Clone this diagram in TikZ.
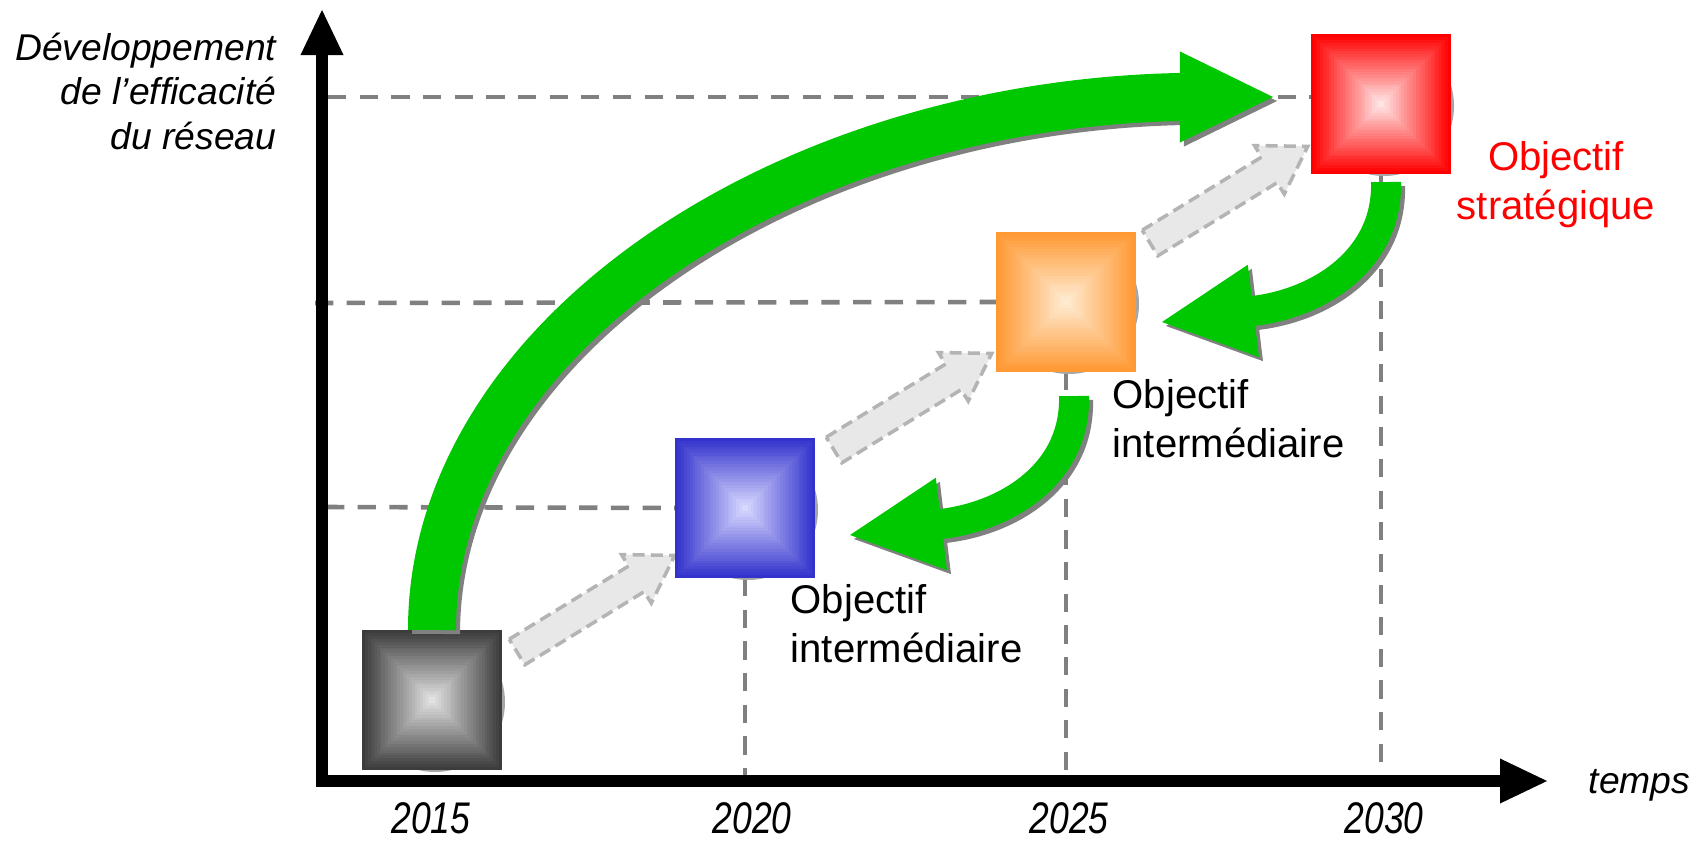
\documentclass[tikz,border=0pt]{standalone}
\usepackage{fontspec}
\setmainfont{Liberation Sans}
\newfontfamily\yearfont[FakeStretch=0.8]{Liberation Sans}
\usetikzlibrary{arrows.meta}

\definecolor{arrowgreen}{RGB}{0,200,0}
\definecolor{shadowgrey}{RGB}{128,128,128}
\definecolor{guidegrey}{RGB}{128,128,128}
\definecolor{stepfill}{RGB}{232,232,232}
\definecolor{stepline}{RGB}{180,180,180}
\definecolor{goalred}{RGB}{255,0,0}
% square colours, edge and centre
\definecolor{blkedge}{RGB}{60,60,60}\definecolor{blkcentre}{RGB}{225,225,225}
\definecolor{blueedge}{RGB}{51,51,204}\definecolor{bluecentre}{RGB}{215,215,255}
\definecolor{orngedge}{RGB}{255,153,51}\definecolor{orngcentre}{RGB}{255,235,210}
\definecolor{rededge}{RGB}{255,0,0}\definecolor{redcentre}{RGB}{255,228,228}

\tikzset{
  guide/.style={guidegrey, line width=1.3pt, dash pattern=on 5.2pt off 3.8pt},
  axisline/.style={line width=3.4pt, line join=miter,
    {Triangle[length=0.45cm,width=0.43cm,line width=0pt]}-{Triangle[length=0.47cm,width=0.45cm,line width=0pt]}},
  stepbox/.style={minimum size=1.4cm, inner sep=0pt, outer sep=0pt},
  steparrow/.style={fill=stepfill, draw=stepline, line width=1pt,
    dash pattern=on 3.4pt off 1.8pt, line join=miter},
  greenarc/.style={line width=0.48cm, -{Triangle[length=0.93cm,width=0.91cm,line width=0pt]}},
  greenturn/.style={line width=0.30cm, -{Triangle[length=0.92cm,width=0.93cm,line width=0pt]}},
  goaltext/.style={font=\fontsize{11.4}{13.9}\selectfont, inner sep=0pt},
  axislabel/.style={font=\fontsize{10.6}{12.7}\selectfont\itshape, inner sep=0pt},
  yeartext/.style={font=\yearfont\fontsize{12.6}{15}\selectfont\itshape, inner sep=0pt},
}

\begin{document}
\begin{tikzpicture}[x=0.01cm, y=-0.01cm]
  \useasboundingbox (0,0) rectangle (1689,843);

  \coordinate (origin) at (322,781);

  % the four steps
  \node[stepbox] (sq2015) at (432,700) {};
  \node[stepbox] (sq2020) at (745,508) {};
  \node[stepbox] (sq2025) at (1066,302) {};
  \node[stepbox] (sq2030) at (1381,104) {};

  % guide lines
  \draw[guide] (328,97) -- (1311,97);
  \draw[guide] (315,303) -- (sq2025.west);
  \draw[guide] (326,507) -- (sq2020.west);
  \draw[guide] (sq2020.south) -- (sq2020.south |- origin);
  \draw[guide] (sq2025.south) -- (sq2025.south |- origin);
  \draw[guide] (sq2030.south) -- (sq2030.south |- origin);

  % axes
  \draw[axisline] (322,10) -- (origin) -- (1547,781);

  % small step arrows
  \foreach \tx/\ty in {517/652, 834/450, 1150/243}
    \draw[steparrow, shift={(\tx,\ty)}, rotate=31.5]
      (0,-15) -- (140,-15) -- (140,-28.5) -- (185,0)
      -- (140,28.5) -- (140,15) -- (0,15) -- cycle;

  % shaded squares
  \foreach \sq/\ce/\cc in {sq2015/blkedge/blkcentre, sq2020/blueedge/bluecentre,
                           sq2025/orngedge/orngcentre, sq2030/rededge/redcentre}{
    \fill[shadowgrey!70, shift={(\sq)}] (3,2) circle (70);
    \foreach \k in {0,...,23}{
      \pgfmathsetmacro\h{70-70*\k/24}
      \pgfmathtruncatemacro\p{100*\k/23}
      \fill[\cc!\p!\ce, shift={(\sq)}] (-\h,-\h) rectangle (\h,\h);
    }
  }

  % green arrows
  \coordinate (bigbase) at (1180,97);
  \coordinate (bigtip) at (1273,97);
  \coordinate (turnAbase) at (1253,311);
  \coordinate (turnAtip) at (1162,322);
  \coordinate (turnBbase) at (941,524);
  \coordinate (turnBtip) at (850,535);
  \foreach \col/\d in {shadowgrey/4, arrowgreen/0}{
    \begin{scope}[transform canvas={shift={(\d,\d)}}]
      \draw[greenarc, color=\col]
        (sq2015.north) .. controls +(0,-290) and +(-400,8) .. (bigbase) -- (bigtip);
      \draw[greenturn, color=\col]
        ([shift={(5,8)}]sq2030.south) .. controls +(2,77) and +(67,-8) .. (turnAbase) -- (turnAtip);
      \draw[greenturn, color=\col]
        ([shift={(8,24)}]sq2025.south) .. controls +(2,77) and +(67,-8) .. (turnBbase) -- (turnBtip);
    \end{scope}
  }

  % texts
  \node[axislabel, align=right, anchor=north east] (ylab) at (277,32)
    {Développement\\de l’efficacité\\du réseau};
  \node[axislabel, anchor=base west] (temps) at (1588,793) {temps};
  \node[yeartext, anchor=base] (y2015) at (431,833) {2015};
  \node[yeartext, anchor=base] (y2020) at (752,833) {2020};
  \node[yeartext, anchor=base] (y2025) at (1069,833) {2025};
  \node[yeartext, anchor=base] (y2030) at (1384,833) {2030};
  \node[goaltext, text=goalred, align=center, anchor=north] (goal) at (1556,141)
    {Objectif\\stratégique};
  \node[goaltext, align=left, anchor=north west] (mid2025) at (1112,379)
    {Objectif\\intermédiaire};
  \node[goaltext, align=left, anchor=north west] (mid2020) at (790,584)
    {Objectif\\intermédiaire};
\end{tikzpicture}
\end{document}
